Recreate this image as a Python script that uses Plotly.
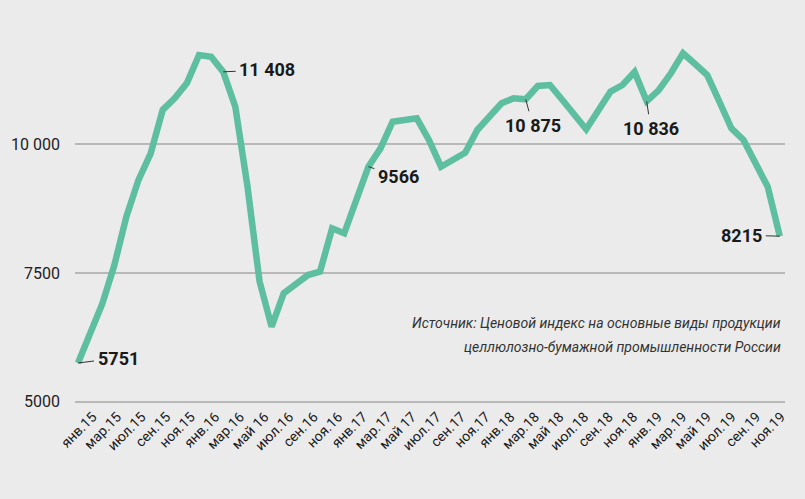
import plotly.graph_objects as go

# monthly index values, янв.2015 - ноя.2019
months = list(range(59))
values = [5751, 6340, 6900, 7650, 8600, 9310, 9820, 10670, 10900, 11190,
          11735, 11700, 11408, 10730, 9190, 7340, 6456, 7106, 7285, 7460,
          7525, 8368, 8271, 8937, 9566, 9922, 10439, 10472, 10505, 10084,
          9565, 9700, 9837, 10278, 10536, 10797, 10894, 10875, 11133, 11152,
          10870, 10589, 10291, 10657, 11022, 11152, 11405, 10836, 11055, 11380,
          11768, 11560, 11346, 10832, 10311, 10084, 9637, 9176, 8215]

tick_labels = ["янв.15", "мар.15", "июл.15", "сен.15", "ноя.15",
               "янв.16", "мар.16", "май 16", "июл.16", "сен.16", "ноя.16",
               "янв.17", "мар.17", "май 17", "июл.17", "сен.17", "ноя.17",
               "янв.18", "мар.18", "май 18", "июл.18", "сен.18", "ноя.18",
               "янв.19", "мар.19", "май 19", "июл.19", "сен.19", "ноя.19"]

y_ticks = [5000, 7500, 10000]
y_tick_text = ["5000", "7500", "10 000"]

# callouts: (month index, text, dx, dy)
callouts = [(0, "5751", 40, -5), (12, "11 408", 44, -2), (24, "9566", 30, 10),
            (37, "10 875", 7, 26), (47, "10 836", 4, 27), (58, "8215", -38, -1)]

FONT = "Roboto, sans-serif"
BG = "#ebebeb"

fig = go.Figure()
fig.add_trace(go.Scatter(
    x=months, y=values, mode="lines",
    line=dict(color="#5dbea0", width=6.5),
    hoverinfo="skip",
))

# labels are spread evenly along the axis, as in the original
n = len(tick_labels)
tick_pos = [1.2 + i * (58.1 - 1.2) / (n - 1) for i in range(n)]

for idx, txt, dx, dy in callouts:
    fig.add_annotation(
        x=months[idx], y=values[idx], text="<b>" + txt + "</b>",
        ax=dx, ay=dy, showarrow=True, arrowhead=0, arrowwidth=1,
        arrowcolor="#333333", borderpad=3,
        font=dict(family=FONT, size=18, color="#1a1a1a"),
    )

fig.add_annotation(
    xref="paper", yref="paper", x=0.997, y=0.219, xanchor="right", yanchor="middle",
    text="<i>Источник: Ценовой индекс на основные виды продукции</i>",
    showarrow=False, font=dict(family=FONT, size=14, color="#333333"),
)
fig.add_annotation(
    xref="paper", yref="paper", x=0.997, y=0.155, xanchor="right", yanchor="middle",
    text="<i>целлюлозно-бумажной промышленности России</i>",
    showarrow=False, font=dict(family=FONT, size=14, color="#333333"),
)

fig.update_layout(
    width=805, height=499,
    margin=dict(l=75, r=20, t=30, b=94),
    paper_bgcolor=BG, plot_bgcolor=BG,
    showlegend=False,
    xaxis=dict(
        range=[-0.25, 58.43], showgrid=False, zeroline=False, showline=False,
        tickmode="array", tickvals=tick_pos, ticktext=tick_labels,
        tickangle=-45, tickfont=dict(family=FONT, size=14, color="#1a1a1a"),
        ticks="", automargin=False,
    ),
    yaxis=dict(
        range=[4935, 12221], tickmode="array", tickvals=y_ticks, ticktext=y_tick_text,
        showgrid=True, gridcolor="#b8b8b8", gridwidth=2, zeroline=False,
        tickfont=dict(family=FONT, size=16, color="#222222"), ticklabelstandoff=14,
        automargin=False,
    ),
)

fig.write_html(
    "out.html",
    config={"displayModeBar": False},
    post_script="document.body.style.margin='0';document.body.style.background='#ebebeb';",
)
